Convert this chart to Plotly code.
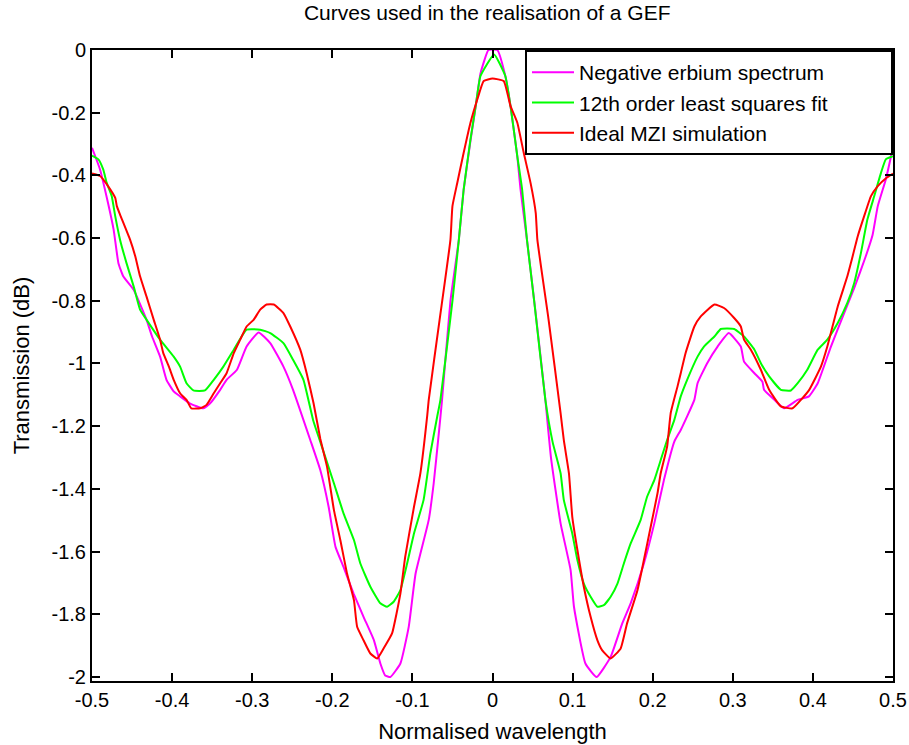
import plotly.graph_objects as go

# ---- data ----
erbium_x = [-0.5, -0.49, -0.48, -0.473, -0.467, -0.461, -0.448, -0.432, -0.425, -0.415, -0.407,
            -0.398, -0.39, -0.378, -0.361, -0.3525, -0.34, -0.332, -0.319, -0.307, -0.292,
            -0.2775, -0.261, -0.249, -0.2275, -0.215, -0.2046, -0.196, -0.186, -0.1734, -0.161,
            -0.148, -0.14, -0.134, -0.1275, -0.115, -0.1046, -0.096, -0.0796, -0.0734, -0.067,
            -0.063, -0.0525, -0.042, -0.036, -0.0275, -0.021, -0.015, -0.005, 0.006, 0.016,
            0.0225, 0.031, 0.035, 0.043, 0.053, 0.066, 0.073, 0.085, 0.0975, 0.1017, 0.116,
            0.13, 0.1475, 0.162, 0.1725, 0.189, 0.202, 0.214, 0.227, 0.235, 0.252, 0.256,
            0.268, 0.281, 0.295, 0.31, 0.314, 0.327, 0.337, 0.339, 0.352, 0.364, 0.381, 0.395,
            0.406, 0.4225, 0.439, 0.4515, 0.466, 0.4745, 0.481, 0.491, 0.4975, 0.5]
erbium_y = [-0.312, -0.381, -0.488, -0.573, -0.68, -0.722, -0.765, -0.86, -0.914, -0.978, -1.052,
            -1.089, -1.105, -1.127, -1.143, -1.127, -1.084, -1.052, -1.02, -0.946, -0.901,
            -0.935, -1.01, -1.084, -1.244, -1.34, -1.457, -1.585, -1.649, -1.734, -1.808,
            -1.883, -1.957, -1.995, -2.0, -1.957, -1.84, -1.67, -1.499, -1.382, -1.222,
            -1.116, -0.8, -0.605, -0.445, -0.29, -0.18, -0.075, 0.0, 0.0, -0.083,
            -0.179, -0.34, -0.445, -0.605, -0.82, -1.116, -1.3, -1.51, -1.659, -1.776, -1.957,
            -2.0, -1.936, -1.829, -1.765, -1.638, -1.51, -1.372, -1.249, -1.212, -1.116, -1.063,
            -0.999, -0.946, -0.903, -0.946, -0.994, -1.031, -1.058, -1.084, -1.116, -1.143, -1.116, -1.105,
            -1.063, -0.946, -0.839, -0.76, -0.658, -0.59, -0.498, -0.413, -0.339, -0.307]

fit_x = [-0.5, -0.492, -0.486, -0.4816, -0.4754, -0.471, -0.465, -0.457, -0.448, -0.44, -0.432,
         -0.415, -0.398, -0.39, -0.382, -0.3734, -0.359, -0.348, -0.336, -0.323, -0.307, -0.29,
         -0.2775, -0.261, -0.249, -0.236, -0.224, -0.215, -0.198, -0.186, -0.173, -0.165,
         -0.1525, -0.14, -0.1316, -0.1234, -0.115, -0.1066, -0.098, -0.086, -0.0775, -0.069,
         -0.065, -0.05, -0.042, -0.036, -0.0275, -0.021, -0.015, 0.002, 0.016, 0.0225, 0.031,
         0.037, 0.043, 0.052, 0.066, 0.075, 0.085, 0.089, 0.0996, 0.106, 0.114, 0.1225, 0.131,
         0.139, 0.1475, 0.156, 0.164, 0.1725, 0.185, 0.193, 0.202, 0.21, 0.218, 0.227, 0.235,
         0.243, 0.256, 0.264, 0.277, 0.285, 0.3017, 0.314, 0.327, 0.335, 0.3454, 0.36, 0.3725,
         0.381, 0.393, 0.406, 0.418, 0.431, 0.443, 0.4516, 0.46, 0.468, 0.4766, 0.485, 0.491, 0.5]
fit_y = [-0.337, -0.349, -0.381, -0.424, -0.466, -0.53, -0.605, -0.679, -0.754, -0.828, -0.86,
         -0.924, -0.978, -1.01, -1.063, -1.086, -1.086, -1.052, -1.01, -0.956, -0.892, -0.892,
         -0.903, -0.935, -0.988, -1.052, -1.18, -1.25, -1.382, -1.478, -1.563, -1.638,
         -1.712, -1.765, -1.776, -1.76, -1.723, -1.638, -1.542, -1.435, -1.286, -1.169,
         -1.116, -0.8, -0.605, -0.445, -0.285, -0.179, -0.083, -0.014, -0.083, -0.179, -0.339,
         -0.445, -0.605, -0.8, -1.116, -1.25, -1.35, -1.435, -1.542, -1.627, -1.702, -1.744, -1.776,
         -1.771, -1.744, -1.702, -1.638, -1.574, -1.499, -1.425, -1.372, -1.308, -1.244, -1.18, -1.105,
         -1.052, -0.978, -0.946, -0.914, -0.89, -0.89, -0.914, -0.956, -0.999, -1.041, -1.084, -1.086,
         -1.063, -1.02, -0.956, -0.924, -0.871, -0.807, -0.743, -0.647, -0.541, -0.466, -0.392, -0.349, -0.339]

mzi_x = [-0.5, -0.49, -0.48, -0.471, -0.469, -0.465, -0.4525, -0.446, -0.44, -0.432, -0.423,
         -0.415, -0.411, -0.404, -0.398, -0.39, -0.382, -0.376, -0.365, -0.357, -0.348, -0.34,
         -0.332, -0.323, -0.315, -0.307, -0.298, -0.29, -0.282, -0.273, -0.261, -0.2525, -0.24,
         -0.232, -0.2234, -0.215, -0.2066, -0.198, -0.19, -0.1816, -0.173, -0.169, -0.161,
         -0.1525, -0.144, -0.136, -0.1254, -0.115, -0.109, -0.098, -0.09, -0.0816, -0.0796,
         -0.066, -0.0525, -0.05, -0.044, -0.036, -0.0275, -0.019, -0.011, 0.0, 0.014, 0.0225,
         0.031, 0.039, 0.0475, 0.054, 0.056, 0.07, 0.085, 0.089, 0.0954, 0.0996, 0.106, 0.114,
         0.1225, 0.131, 0.137, 0.1475, 0.16, 0.168, 0.181, 0.189, 0.1975, 0.206, 0.21, 0.218,
         0.2225, 0.231, 0.235, 0.241, 0.252, 0.26, 0.277, 0.289, 0.3017, 0.31, 0.314, 0.3225,
         0.335, 0.3454, 0.36, 0.3746, 0.385, 0.3954, 0.41, 0.418, 0.431, 0.443, 0.4475, 0.456,
         0.464, 0.4725, 0.481, 0.4916, 0.5]
mzi_y = [-0.394, -0.402, -0.434, -0.472, -0.498, -0.525, -0.605, -0.658, -0.722, -0.786, -0.86,
         -0.924, -0.967, -1.01, -1.052, -1.095, -1.116, -1.143, -1.143, -1.132, -1.095, -1.063,
         -1.031, -0.967, -0.924, -0.882, -0.86, -0.828, -0.812, -0.812, -0.839, -0.882, -0.956,
         -1.031, -1.127, -1.24, -1.329, -1.467, -1.563, -1.67, -1.755, -1.84, -1.883,
         -1.925, -1.941, -1.909, -1.861, -1.734, -1.617, -1.457, -1.35, -1.169, -1.116,
         -0.86, -0.605, -0.498, -0.424, -0.328, -0.232, -0.158, -0.099, -0.091, -0.099, -0.179,
         -0.232, -0.328, -0.424, -0.52, -0.605, -0.86, -1.158, -1.244, -1.35, -1.489, -1.595, -1.712,
         -1.808, -1.883, -1.915, -1.941, -1.909, -1.829, -1.723, -1.627, -1.521, -1.414, -1.35, -1.265,
         -1.158, -1.073, -1.031, -0.967, -0.882, -0.85, -0.812, -0.823, -0.855, -0.882, -0.924, -0.956,
         -1.02, -1.084, -1.137, -1.143, -1.116, -1.084, -1.01, -0.946, -0.818, -0.722, -0.679, -0.594,
         -0.53, -0.466, -0.434, -0.408, -0.394]

series_names = ["Negative erbium spectrum", "12th order least squares fit", "Ideal MZI simulation"]
series_colors = ["#ff00ff", "#00ff00", "#ff0000"]

x_ticks = [-0.5, -0.4, -0.3, -0.2, -0.1, 0.0, 0.1, 0.2, 0.3, 0.4, 0.5]
x_ticktext = ["-0.5", "-0.4", "-0.3", "-0.2", "-0.1", "0", "0.1", "0.2", "0.3", "0.4", "0.5"]
y_ticks = [0.0, -0.2, -0.4, -0.6, -0.8, -1.0, -1.2, -1.4, -1.6, -1.8, -2.0]
y_ticktext = ["0", "-0.2", "-0.4", "-0.6", "-0.8", "-1", "-1.2", "-1.4", "-1.6", "-1.8", "-2"]

FONT = "Liberation Sans, Arial, sans-serif"
LEGEND_PAD = "\u00a0" * 10  # widens the legend box to the reference's size

fig = go.Figure()
for i, (xs, ys, name, col) in enumerate(zip([erbium_x, fit_x, mzi_x], [erbium_y, fit_y, mzi_y],
                                            series_names, series_colors)):
    fig.add_trace(go.Scatter(x=xs, y=ys, mode="lines",
                             name=name + (LEGEND_PAD if i == 1 else ""),
                             line=dict(color=col, width=2, shape="spline", smoothing=0.4)))

axis_common = dict(showline=True, linecolor="black", linewidth=2, mirror="ticks",
                   ticks="inside", ticklen=8, tickwidth=2, tickcolor="black",
                   showgrid=False, zeroline=False, automargin=False,
                   tickfont=dict(family=FONT, size=20, color="black"))

fig.update_xaxes(range=[-0.5, 0.5], tickvals=x_ticks, ticktext=x_ticktext,
                 title=dict(text="Normalised wavelength", font=dict(family=FONT, size=22, color="black"),
                            standoff=14),
                 **axis_common)
fig.update_yaxes(range=[-2.0128, 0.0], tickvals=y_ticks, ticktext=y_ticktext,
                 title=dict(text="Transmission (dB)", font=dict(family=FONT, size=22, color="black"),
                            standoff=16),
                 **axis_common)

fig.update_layout(
    width=909, height=745,
    margin=dict(l=92, r=16, t=50, b=64, pad=0),
    paper_bgcolor="white", plot_bgcolor="white",
    title=dict(text="Curves used in the realisation of a GEF", x=0.536, xanchor="center",
               y=0.993, yanchor="top", font=dict(family=FONT, size=21, color="black")),
    legend=dict(x=1, y=1, xanchor="right", yanchor="top", bgcolor="white",
                bordercolor="black", borderwidth=2, itemwidth=42,
                font=dict(family=FONT, size=21, color="black"),
                tracegroupgap=0),
    showlegend=True,
)

fig.write_html("out.html")
